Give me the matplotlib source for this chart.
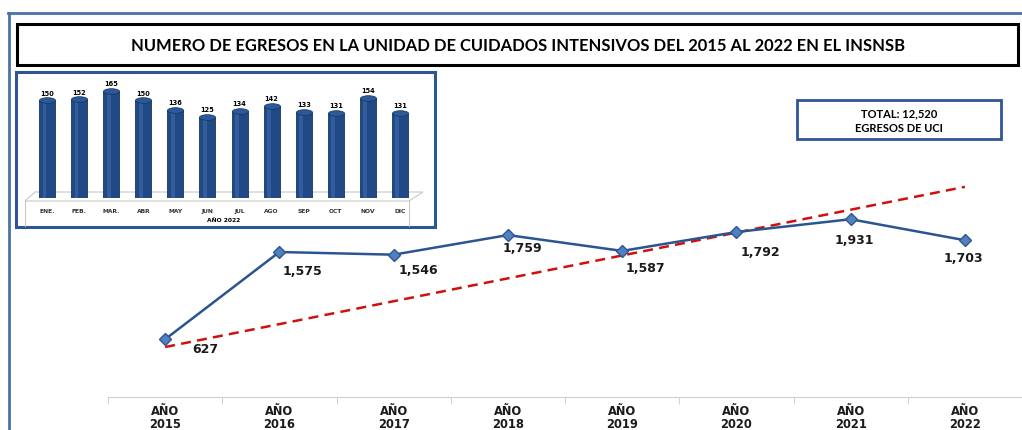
import numpy as np
import matplotlib
matplotlib.use("Agg")
import matplotlib.pyplot as plt
from matplotlib.patches import Rectangle, Polygon
from matplotlib.lines import Line2D
from matplotlib.markers import MarkerStyle
from matplotlib.transforms import Affine2D

# data
years = ["2015", "2016", "2017", "2018", "2019", "2020", "2021", "2022"]
egresos = [627, 1575, 1546, 1759, 1587, 1792, 1931, 1703]
trend_ends = [543, 2283]  # dashed trend line at 2015 and 2022

months = ["ENE.", "FEB.", "MAR.", "ABR", "MAY", "JUN", "JUL", "AGO", "SEP", "OCT", "NOV", "DIC"]
egresos_2022 = [150, 152, 165, 150, 136, 125, 134, 142, 133, 131, 154, 131]

# label offsets for the main line (pixels)
label_dx = [40, 23, 25, 14, 23, 24, 4, -2]
label_dy = [-9, -18, -15, -12, -17, -19, -20, -17]

W, H = 1022, 431
BLUE = "#2F5597"


def rect(x0, y0, x1, y1):
    return [x0 / W, 1 - y1 / H, (x1 - x0) / W, (y1 - y0) / H]


def fpt(x, y):
    return (x / W, 1 - y / H)


fig = plt.figure(figsize=(W / 100, H / 100), dpi=100)
fig.patch.set_facecolor("white")

# outer frame lines
fig.add_artist(Line2D([8 / W, 1], [1 - 14 / H] * 2, color="#4A72A8", lw=2))
fig.add_artist(Line2D([9 / W] * 2, [1 - 14 / H, 0], color="#4A72A8", lw=2))

# title box
fig.add_artist(Rectangle(fpt(19, 68), 1001 / W, 41 / H, transform=fig.transFigure,
                         facecolor="#BFBFBF", edgecolor="none", zorder=1))
fig.add_artist(Rectangle(fpt(17, 66), 1001 / W, 41 / H, transform=fig.transFigure,
                         facecolor="white", edgecolor="black", lw=2.2, zorder=2))
fig.text(518 / W, 1 - 46 / H,
         "NUMERO DE EGRESOS EN LA UNIDAD DE CUIDADOS INTENSIVOS DEL 2015 AL 2022 EN EL INSNSB",
         ha="center", va="center", fontsize=11.9, fontweight="bold", family="Lato", zorder=3)

# main line chart
ax = fig.add_axes(rect(108, 85, 1022, 398))
x = np.arange(len(years))
ax.plot([x[0], x[-1]], trend_ends, color="#D01010", lw=1.8, ls=(0, (4, 2.5)), zorder=2)
ax.plot(x, egresos, color="#2A5590", lw=1.8, marker="D", markersize=6,
        markerfacecolor="#4F81BD", markeredgecolor="#2F5597", zorder=3)
for i, v in enumerate(egresos):
    ax.annotate(f"{v:,}", (x[i], v), xytext=(label_dx[i], label_dy[i]), textcoords="offset pixels",
                ha="center", va="center", fontsize=9, fontweight="bold", color="#1A1A1A")
ax.set_xlim(-0.5, 7.5)
ax.set_ylim(0, 3400)
for s in ["top", "right", "left"]:
    ax.spines[s].set_visible(False)
ax.spines["bottom"].set_color("#D0D0D0")
ax.set_yticks([])
ax.set_xticks(x)
ax.set_xticklabels([f"AÑO\n{y}" for y in years], fontsize=8.3, fontweight="bold",
                   color="#1A1A1A", linespacing=1.0)
ax.tick_params(axis="x", which="major", length=0, pad=5)
ax.set_xticks(np.arange(-0.5, 7.5, 1), minor=True)
ax.tick_params(axis="x", which="minor", length=5, color="#C8C8C8")
ax.patch.set_alpha(0)

# total box
fig.add_artist(Rectangle(fpt(797, 140), 204 / W, 39 / H, transform=fig.transFigure,
                         facecolor="white", edgecolor=BLUE, lw=2))
fig.text(899 / W, 1 - 114 / H, f"TOTAL: {sum(egresos):,}", ha="center", va="center",
         fontsize=8, fontweight="bold", family="Lato")
fig.text(899 / W, 1 - 129 / H, "EGRESOS DE UCI", ha="center", va="center",
         fontsize=8, fontweight="bold", family="Lato")

# inset box with the 2022 monthly bars
fig.add_artist(Rectangle(fpt(16, 228), 419 / W, 155 / H, transform=fig.transFigure,
                         facecolor="white", edgecolor=BLUE, lw=2.2, zorder=4))
floor = Polygon([fpt(25, 202), fpt(409, 202), fpt(423, 193), fpt(35, 193)], closed=True,
                transform=fig.transFigure, facecolor="white", edgecolor="#C8C8C8", lw=0.8, zorder=5)
fig.add_artist(floor)
fig.add_artist(Line2D([25 / W] * 2, [1 - 202 / H, 1 - 227 / H], color="#C8C8C8", lw=0.8, zorder=5))
fig.add_artist(Line2D([409 / W] * 2, [1 - 202 / H, 1 - 227 / H], color="#C8C8C8", lw=0.8, zorder=5))

axi = fig.add_axes(rect(31, 80, 416, 199), zorder=6)
xm = np.arange(len(months))
axi.bar(xm, egresos_2022, width=0.5, color="#1F4A86", edgecolor="#17355F", lw=0.6)
axi.bar(xm - 0.08, egresos_2022, width=0.12, color="#3E6AA8", lw=0, alpha=0.6)
cap = MarkerStyle("o", transform=Affine2D().scale(1, 0.35))
axi.scatter(xm, egresos_2022, marker=cap, s=135, color="#2A5A9A", edgecolor="#17355F",
            lw=0.5, zorder=3)
for i, v in enumerate(egresos_2022):
    axi.text(xm[i], v + 7, str(v), ha="center", va="bottom", fontsize=4.8, fontweight="bold")
axi.set_xlim(-0.5, 11.5)
axi.set_ylim(0, 183)
axi.set_yticks([])
axi.set_xticks(xm)
axi.set_xticklabels(months, fontsize=4.3, fontweight="bold", color="#333333")
axi.tick_params(axis="x", length=0, pad=7)
axi.set_xlabel("AÑO 2022", fontsize=4.3, fontweight="bold", labelpad=3)
for s in axi.spines.values():
    s.set_visible(False)
axi.patch.set_alpha(0)

fig.savefig("out.png", dpi=100)
